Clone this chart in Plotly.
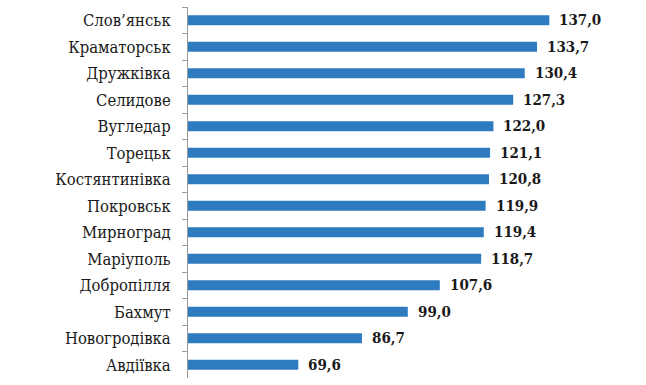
import plotly.graph_objects as go

cities = ["Слов’янськ", "Краматорськ", "Дружківка", "Селидове", "Вугледар", "Торецьк",
          "Костянтинівка", "Покровськ", "Мирноград", "Маріуполь", "Добропілля", "Бахмут",
          "Новогродівка", "Авдіївка"]
values = [137.0, 133.7, 130.4, 127.3, 122.0, 121.1, 120.8, 119.9, 119.4, 118.7, 107.6, 99.0, 86.7, 69.6]
labels = [f"{v:.1f}".replace(".", ",") for v in values]

AXIS_MIN = 40
SERIF = "'DejaVu Serif Condensed', 'DejaVu Serif', serif"

fig = go.Figure()
fig.add_trace(go.Bar(
    x=[v - AXIS_MIN for v in values], y=cities, orientation="h", base=AXIS_MIN,
    marker=dict(color="#2E7BC0", line=dict(width=0)),
    showlegend=False,
))

for v, c, t in zip(values, cities, labels):
    fig.add_annotation(x=v, y=c, text=f"<b>{t}</b>", showarrow=False, xanchor="left", yanchor="middle",
                       xshift=8, font=dict(family=SERIF, size=15, color="#1a1a1a"))

fig.update_layout(
    width=646, height=385,
    margin=dict(l=188, r=11, t=7, b=7),
    paper_bgcolor="white", plot_bgcolor="white",
    bargap=0.63,
    font=dict(family=SERIF, size=16.5, color="#1a1a1a"),
)
fig.update_xaxes(range=[AXIS_MIN, 160], visible=False, showgrid=False, zeroline=False)
fig.update_yaxes(autorange="reversed", showline=True, linecolor="#9a9a9a", linewidth=1,
                 ticks="outside", tickson="boundaries", ticklen=5, tickcolor="#9a9a9a",
                 showgrid=False, ticklabelstandoff=13,
                 tickfont=dict(family=SERIF, size=16.5, color="#1a1a1a"))

fig.write_html("out.html")
